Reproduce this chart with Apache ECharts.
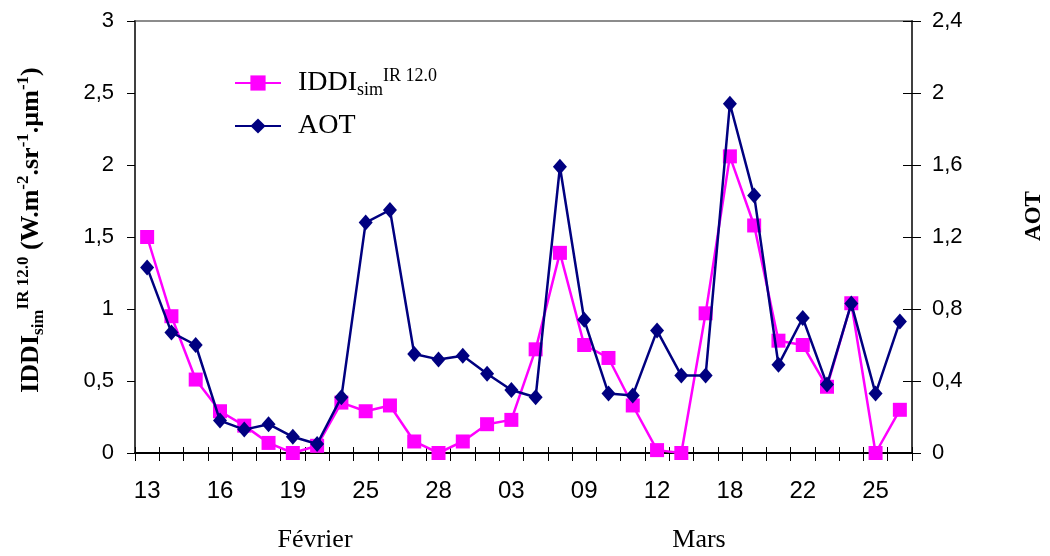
<!DOCTYPE html>
<html>
<head>
<meta charset="utf-8">
<script src="https://cdn.jsdelivr.net/npm/echarts@6/dist/echarts.min.js"></script>
<style>
html,body{margin:0;padding:0;background:#fff;}
#chart{width:1050px;height:556px;}
</style>
</head>
<body>
<div id="chart"></div>
<script>
// Category labels (one label every third point)
const categories = ['13','','','16','','','19','','','25','','','28','','','03','','','09','','','12','','','18','','','22','','','25',''];
// IDDI_sim IR 12.0 (left axis, W.m-2.sr-1.µm-1)
const iddiValues = [1.50,0.95,0.51,0.29,0.19,0.07,0.00,0.05,0.35,0.29,0.33,0.08,0.00,0.08,0.20,0.23,0.72,1.39,0.75,0.66,0.33,0.02,0.00,0.97,2.06,1.58,0.78,0.75,0.46,1.04,0.00,0.30];
// AOT (right axis)
const aotValues = [1.03,0.67,0.60,0.18,0.13,0.16,0.09,0.05,0.31,1.28,1.35,0.55,0.52,0.54,0.44,0.35,0.31,1.59,0.74,0.33,0.32,0.68,0.43,0.43,1.94,1.43,0.49,0.75,0.38,0.83,0.33,0.73];
// Axis ranges
const leftAxis = {min: 0, max: 3, interval: 0.5};
const rightAxis = {min: 0, max: 2.4, interval: 0.4};
// Month labels
const months = ['Février', 'Mars'];

const SANS = '"Liberation Sans", Arial, sans-serif';
const SERIF = '"Liberation Serif", "Times New Roman", serif';
const fmt = v => String(+v.toFixed(2)).replace('.', ',');

const chart = echarts.init(document.getElementById('chart'), null, {renderer: 'canvas'});

const titleRich = {
  b: {fontFamily: SERIF, fontWeight: 'bold', fontSize: 26, lineHeight: 32, color: '#000'},
  sub: {fontFamily: SERIF, fontWeight: 'bold', fontSize: 17, lineHeight: 13, verticalAlign: 'bottom', color: '#000'},
  sup: {fontFamily: SERIF, fontWeight: 'bold', fontSize: 17, lineHeight: 17, verticalAlign: 'top', color: '#000'}
};
const legendRich = {
  m: {fontFamily: SERIF, fontSize: 28, lineHeight: 32, color: '#000'},
  sub: {fontFamily: SERIF, fontSize: 18, lineHeight: 13, verticalAlign: 'bottom', color: '#000'},
  sup: {fontFamily: SERIF, fontSize: 18, lineHeight: 18, verticalAlign: 'top', color: '#000'}
};

const option = {
  animation: false,
  backgroundColor: '#fff',
  grid: {left: 135, right: 138, top: 21, bottom: 103, show: true, borderColor: '#8c8c8c', borderWidth: 2, backgroundColor: 'transparent'},
  legend: [
    {
      data: ['IDDI'], left: 229, top: 62, orient: 'vertical',
      itemWidth: 46, itemHeight: 19,
      formatter: () => '{m|IDDI}{sub|sim}{sup|IR 12.0}',
      textStyle: {rich: legendRich, padding: [0, 0, 0, 12]}
    },
    {
      data: ['AOT'], left: 229, top: 107, orient: 'vertical',
      itemWidth: 46, itemHeight: 19,
      formatter: () => '{m|AOT}',
      textStyle: {rich: legendRich, padding: [0, 0, 0, 12]}
    }
  ],
  xAxis: [
    {
      type: 'category', data: categories, boundaryGap: true, position: 'bottom',
      axisLine: {show: true, lineStyle: {color: '#000', width: 2}},
      axisTick: {show: true, interval: 0, inside: false, length: 8, lineStyle: {color: '#000', width: 1}},
      axisLabel: {interval: 2, margin: 26, fontFamily: SANS, fontSize: 24, color: '#000'},
      splitLine: {show: false}
    },
    {
      type: 'category', data: categories, boundaryGap: true, position: 'bottom',
      axisLine: {show: false},
      axisTick: {show: true, interval: 0, inside: true, length: 6, lineStyle: {color: '#000', width: 1}},
      axisLabel: {show: false},
      splitLine: {show: false}
    }
  ],
  yAxis: [
    {
      type: 'value', position: 'left', min: leftAxis.min, max: leftAxis.max, interval: leftAxis.interval,
      axisLine: {show: true, lineStyle: {color: '#404040', width: 2}},
      axisTick: {show: true, inside: false, length: 8, lineStyle: {color: '#000', width: 1}},
      axisLabel: {margin: 21, fontFamily: SANS, fontSize: 22, color: '#000', formatter: fmt},
      splitLine: {show: false}
    },
    {
      type: 'value', position: 'right', min: rightAxis.min, max: rightAxis.max, interval: rightAxis.interval,
      axisLine: {show: true, lineStyle: {color: '#404040', width: 2}},
      axisTick: {show: true, inside: false, length: 9, lineStyle: {color: '#000', width: 1}},
      axisLabel: {margin: 20, fontFamily: SANS, fontSize: 22, color: '#000', formatter: fmt},
      splitLine: {show: false}
    },
    {
      type: 'value', position: 'right', min: rightAxis.min, max: rightAxis.max, interval: rightAxis.interval,
      axisLine: {show: false},
      axisTick: {show: true, inside: true, length: 9, lineStyle: {color: '#000', width: 1}},
      axisLabel: {show: false},
      splitLine: {show: false}
    }
  ],
  series: [
    {
      name: 'IDDI', type: 'line', xAxisIndex: 0, yAxisIndex: 0, data: iddiValues,
      symbol: 'rect', symbolSize: 14, showAllSymbol: true,
      lineStyle: {color: '#ff00ff', width: 2.5},
      itemStyle: {color: '#ff00ff', borderWidth: 0},
      emphasis: {disabled: true}, z: 2
    },
    {
      name: 'AOT', type: 'line', xAxisIndex: 0, yAxisIndex: 1, data: aotValues,
      symbol: 'diamond', symbolSize: [14, 16], showAllSymbol: true,
      lineStyle: {color: '#000080', width: 2.5},
      itemStyle: {color: '#000080', borderWidth: 0},
      emphasis: {disabled: true}, z: 3
    }
  ],
  graphic: [
    {
      type: 'text', x: 31, y: 230, rotation: Math.PI / 2,
      style: {
        text: '{b|IDDI}{sub|sim}{sup|IR 12.0}{b| (W.m}{sup|-2}{b|.sr}{sup|-1}{b|.µm}{sup|-1}{b|)}',
        rich: titleRich, align: 'center', verticalAlign: 'middle'
      }
    },
    {
      type: 'text', x: 1034, y: 216, rotation: Math.PI / 2,
      style: {text: 'AOT', fontFamily: SERIF, fontWeight: 'bold', fontSize: 23, fill: '#000', align: 'center', verticalAlign: 'middle'}
    },
    {
      type: 'text', x: 315, y: 540,
      style: {text: months[0], fontFamily: SERIF, fontSize: 26, fill: '#000', align: 'center', verticalAlign: 'middle'}
    },
    {
      type: 'text', x: 699, y: 540,
      style: {text: months[1], fontFamily: SERIF, fontSize: 26, fill: '#000', align: 'center', verticalAlign: 'middle'}
    }
  ]
};
chart.setOption(option);
</script>
</body>
</html>
